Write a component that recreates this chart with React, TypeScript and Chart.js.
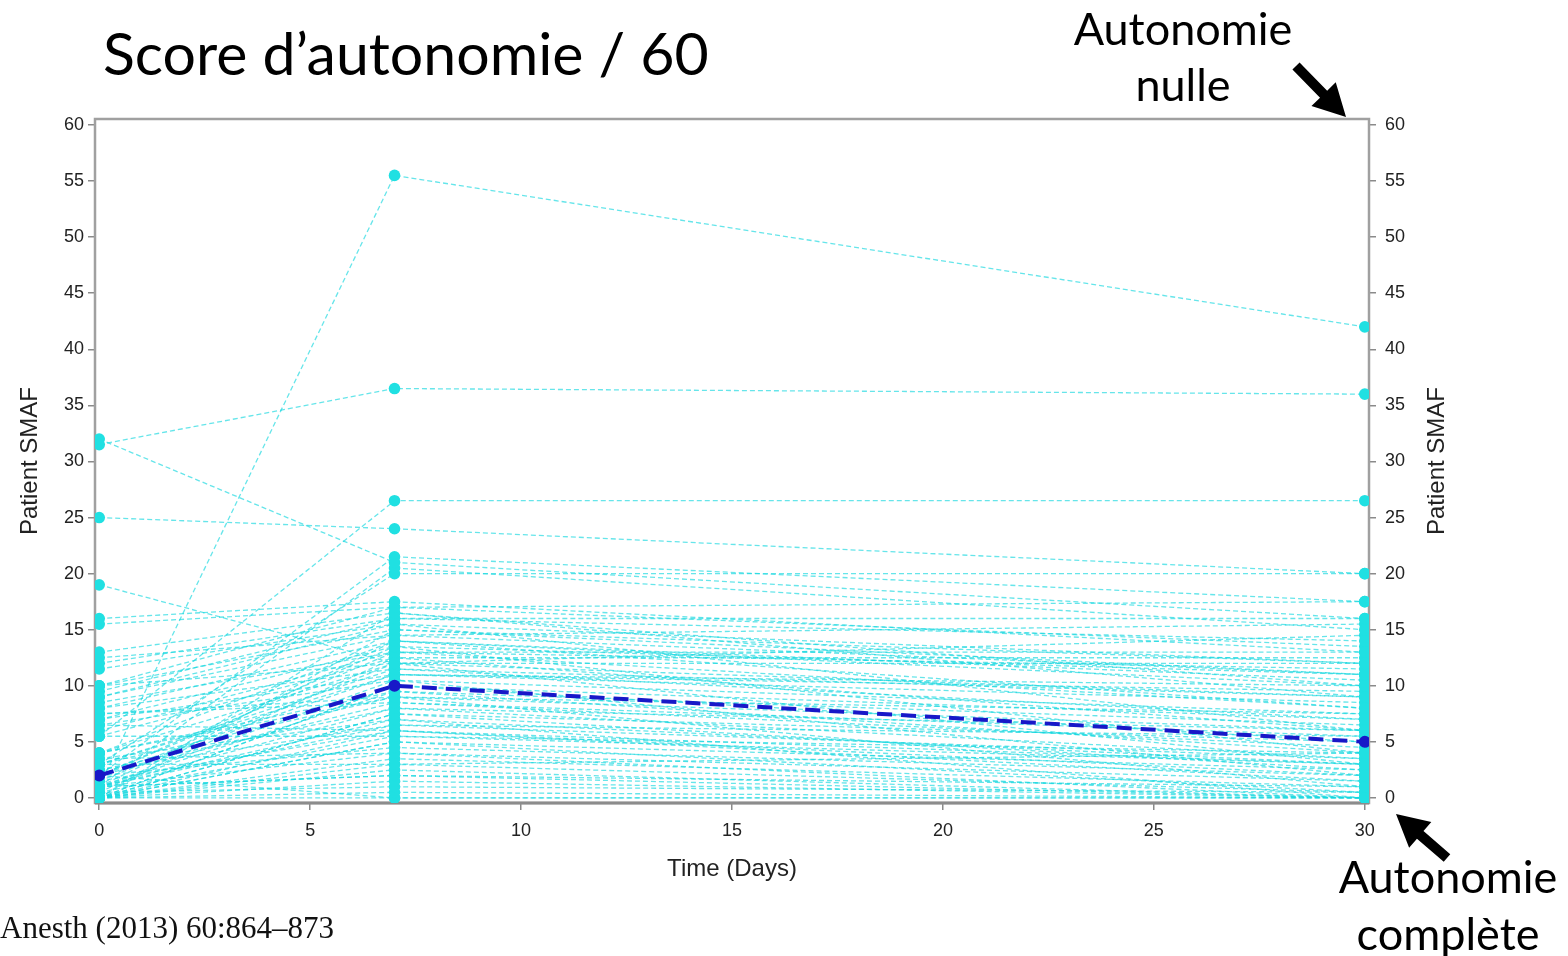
import React, { useEffect, useRef } from 'react';
import { Chart, registerables } from 'chart.js';

Chart.register(...registerables);

// Time points (days)
const days = [0, 7, 30];

// Individual patient SMAF scores at day 0, day 7 and day 30
const smafDay0 = [1, 31.5, 32, 25, 19, 5.5, 2, 1, 3, 16, 15.5, 13, 12, 11.5, 10, 9, 8, 7, 6, 5.5, 4, 3, 2, 1, 0, 4, 3, 2, 1, 0, 3.5, 2.5, 1.5, 0.5, 0, 2, 1, 0, 3, 0, 1, 0, 0.5, 0, 0, 2, 10, 9.5, 8.5, 6.5, 7.5, 7, 1, 0, 4, 2, 0, 1.5, 0, 1, 2, 0.5, 3, 0, 1, 2.5, 0, 1, 0, 3.5, 0, 1, 9, 8, 7.5, 6.5, 5.5, 10, 12.5, 4];
const smafDay7 = [55.5, 36.5, 21, 24, 12, 26.5, 21.5, 20.5, 20, 17.5, 17, 16.5, 16, 15.5, 15, 14.5, 14, 13.5, 13, 12.5, 12, 11.5, 11, 10.5, 10, 9.5, 9, 8.5, 8, 7.5, 7, 6.5, 6, 5.5, 5, 4.5, 4, 3.5, 3, 2.5, 2, 1.5, 1, 0.5, 0, 0, 12, 16, 13, 10.5, 9, 11, 7, 6, 14, 13, 16.5, 12, 15, 14, 13.5, 12.5, 11, 10, 9.5, 8, 7.5, 6.5, 5, 4, 3, 2, 15.5, 11.5, 8.5, 6, 5.5, 17, 14.5, 9];
const smafDay30 = [42, 36, 16, 20, 12, 26.5, 17.5, 15, 20, 13, 17.5, 9, 14, 6, 11, 15.5, 10, 4, 8, 12.5, 3, 7, 9.5, 2, 5, 6.5, 1, 4.5, 3.5, 2.5, 0, 5.5, 1.5, 3, 0.5, 2, 0, 1, 4, 0, 1, 0, 0.5, 0, 0, 0, 14.5, 16, 11.5, 7.5, 6, 8.5, 3, 2, 10.5, 13, 10, 9, 12, 8, 11, 6, 10, 7, 4, 6, 5, 3.5, 2.5, 1.5, 0.5, 0, 12, 9, 5.5, 3, 4, 13.5, 11, 7.5];

// Mean SMAF trajectory
const meanSmaf = [2, 10, 5];

// Tick labels
const xTickValues = [0, 5, 10, 15, 20, 25, 30];
const yTickValues = [0, 5, 10, 15, 20, 25, 30, 35, 40, 45, 50, 55, 60];

const W = 1568;
const H = 956;

function drawArrow(ctx: CanvasRenderingContext2D, x1: number, y1: number, x2: number, y2: number) {
  const ang = Math.atan2(y2 - y1, x2 - x1);
  const headLen = 32;
  const headHalf = 17;
  const shaftHalf = 5;
  const bx = x2 - headLen * Math.cos(ang);
  const by = y2 - headLen * Math.sin(ang);
  const px = -Math.sin(ang);
  const py = Math.cos(ang);
  ctx.save();
  ctx.fillStyle = '#000';
  ctx.beginPath();
  ctx.moveTo(x1 + px * shaftHalf, y1 + py * shaftHalf);
  ctx.lineTo(bx + px * shaftHalf, by + py * shaftHalf);
  ctx.lineTo(bx + px * headHalf, by + py * headHalf);
  ctx.lineTo(x2, y2);
  ctx.lineTo(bx - px * headHalf, by - py * headHalf);
  ctx.lineTo(bx - px * shaftHalf, by - py * shaftHalf);
  ctx.lineTo(x1 - px * shaftHalf, y1 - py * shaftHalf);
  ctx.closePath();
  ctx.fill();
  ctx.restore();
}

const framePlugin = {
  id: 'frame',
  beforeDatasetsDraw(chart: any) {
    const { ctx, chartArea } = chart;
    ctx.save();
    ctx.strokeStyle = '#a0a0a0';
    ctx.lineWidth = 2.5;
    ctx.strokeRect(chartArea.left, chartArea.top, chartArea.right - chartArea.left, chartArea.bottom - chartArea.top);
    ctx.strokeStyle = '#8c8c8c';
    ctx.lineWidth = 3;
    ctx.beginPath();
    ctx.moveTo(chartArea.left, chartArea.bottom);
    ctx.lineTo(chartArea.right, chartArea.bottom);
    ctx.stroke();
    ctx.restore();
  },
  afterDraw(chart: any) {
    const { ctx, chartArea } = chart;
    // right axis title, reading bottom-to-top like the left one
    ctx.save();
    ctx.fillStyle = '#222';
    ctx.font = '24px "Liberation Sans", Arial, sans-serif';
    ctx.textAlign = 'center';
    ctx.textBaseline = 'middle';
    ctx.translate(1437, (chartArea.top + chartArea.bottom) / 2);
    ctx.rotate(-Math.PI / 2);
    ctx.fillText('Patient SMAF', 0, 0);
    ctx.restore();
    drawArrow(ctx, 1296, 66, 1346, 117);
    drawArrow(ctx, 1447, 858, 1396, 814);
  },
};

export default function App() {
  const canvasRef = useRef<HTMLCanvasElement>(null);

  useEffect(() => {
    const canvas = canvasRef.current;
    if (!canvas) return;

    const patientColumns = [smafDay0, smafDay7, smafDay30];
    const patientSets = smafDay0.map((_, i) => ({
      label: 'Patient ' + (i + 1),
      data: days.map((d, j) => ({ x: d, y: patientColumns[j][i] })),
      borderColor: 'rgba(20, 215, 222, 0.65)',
      borderWidth: 1.3,
      borderDash: [5, 3],
      pointRadius: 5.8,
      pointBackgroundColor: 'rgb(32, 224, 226)',
      pointBorderWidth: 0,
      order: 1,
      tension: 0,
    }));

    const meanSet = {
      label: 'Moyenne',
      data: days.map((d, j) => ({ x: d, y: meanSmaf[j] })),
      borderColor: 'rgb(24, 24, 200)',
      borderWidth: 4,
      borderDash: [15, 9],
      pointRadius: 6,
      pointBackgroundColor: 'rgb(24, 24, 200)',
      pointBorderWidth: 0,
      order: -1,
      tension: 0,
    };

    const tickFont = { family: '"Liberation Sans", Arial, sans-serif', size: 18 };
    const tickColor = '#222';
    const gridCommon = {
      drawOnChartArea: false,
      drawTicks: true,
      tickLength: 7,
      color: '#8a8a8a',
      lineWidth: 1.5,
    };

    const yCommon = (position: 'left' | 'right', width: number, pad: number) => ({
      type: 'linear' as const,
      position,
      min: -0.45,
      max: 60.53,
      afterBuildTicks: (scale: any) => {
        scale.ticks = yTickValues.map((v) => ({ value: v }));
      },
      afterFit: (scale: any) => {
        scale.width = width;
      },
      ticks: { font: tickFont, color: tickColor, padding: pad, autoSkip: false },
      grid: gridCommon,
      border: { display: false },
    });

    const chart = new Chart(canvas, {
      type: 'line',
      data: { datasets: [meanSet, ...patientSets] as any },
      options: {
        animation: false,
        responsive: false,
        maintainAspectRatio: false,
        layout: { padding: { top: 119, left: 0, right: 0, bottom: 0 } },
        plugins: {
          legend: { display: false },
          tooltip: { enabled: false },
          title: { display: false },
        },
        scales: {
          x: {
            type: 'linear',
            position: 'bottom',
            min: -0.1,
            max: 30.1,
            afterBuildTicks: (scale: any) => {
              scale.ticks = xTickValues.map((v) => ({ value: v }));
            },
            afterFit: (scale: any) => {
              scale.height = 153;
            },
            ticks: { font: tickFont, color: tickColor, padding: 10, autoSkip: false, maxRotation: 0 },
            grid: gridCommon,
            border: { display: false },
            title: {
              display: true,
              text: 'Time (Days)',
              color: '#222',
              font: { family: '"Liberation Sans", Arial, sans-serif', size: 24 },
              padding: { top: 0, bottom: 72 },
            },
          },
          y: {
            ...yCommon('left', 95, 4),
            title: {
              display: true,
              text: 'Patient SMAF',
              color: '#222',
              font: { family: '"Liberation Sans", Arial, sans-serif', size: 24 },
              padding: { top: 16, bottom: 0 },
            },
          },
          y2: yCommon('right', 199, 9),
        },
      } as any,
      plugins: [framePlugin],
    });

    return () => chart.destroy();
  }, []);

  return (
    <div style={{ position: 'fixed', left: 0, top: 0, width: W, height: H, background: '#fff', overflow: 'hidden' }}>
      <canvas ref={canvasRef} width={W} height={H} style={{ position: 'absolute', left: 0, top: 0, width: W, height: H }} />
      <div
        style={{
          position: 'absolute',
          left: 103,
          top: 23,
          fontFamily: 'Lato, "Open Sans", sans-serif',
          fontSize: 59,
          lineHeight: '59px',
          color: '#000',
          whiteSpace: 'nowrap',
        }}
      >
        Score d’autonomie / 60
      </div>
      <div
        style={{
          position: 'absolute',
          left: 1033,
          top: 0,
          width: 300,
          textAlign: 'center',
          fontFamily: 'Lato, "Open Sans", sans-serif',
          fontSize: 45,
          lineHeight: '56px',
          color: '#000',
        }}
      >
        Autonomie
        <br />
        nulle
      </div>
      <div
        style={{
          position: 'absolute',
          left: 1298,
          top: 848,
          width: 300,
          textAlign: 'center',
          fontFamily: 'Lato, "Open Sans", sans-serif',
          fontSize: 45,
          lineHeight: '57px',
          color: '#000',
        }}
      >
        Autonomie
        <br />
        complète
      </div>
      <div
        style={{
          position: 'absolute',
          left: 0,
          top: 912,
          fontFamily: '"Liberation Serif", "Times New Roman", serif',
          fontSize: 31,
          lineHeight: '31px',
          color: '#111',
          whiteSpace: 'nowrap',
        }}
      >
        Anesth (2013) 60:864–873
      </div>
    </div>
  );
}
